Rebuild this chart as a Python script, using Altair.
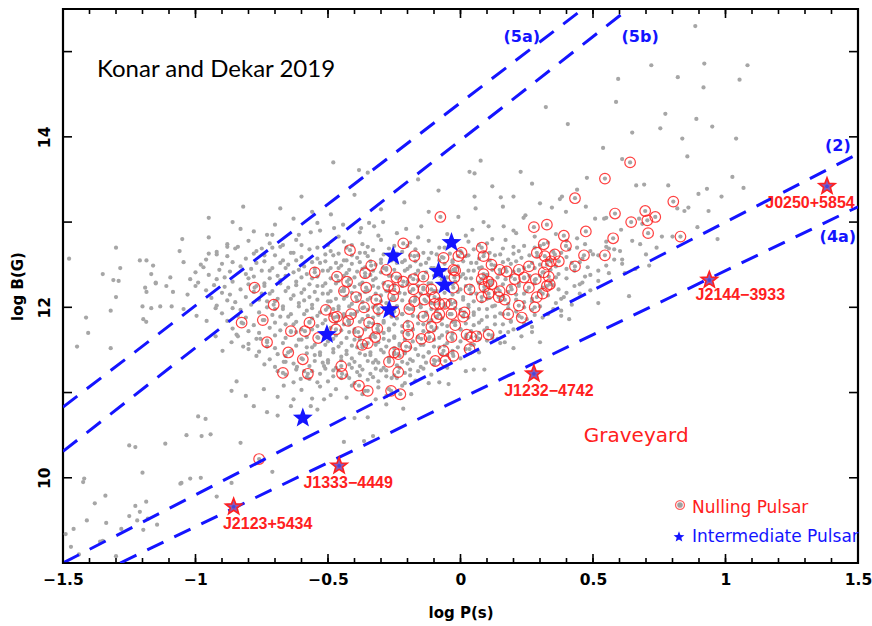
import altair as alt
import pandas as pd

W, H = 795, 554          # plot area in pixels
FONT_B = "DejaVu Sans"

# five-pointed star as a custom symbol path (unit square)
STAR = ("M0,-1L0.247,-0.34L0.951,-0.309L0.399,0.13L0.588,0.809L0,0.42L-0.588,0.809"
        "L-0.399,0.13L-0.951,-0.309L-0.247,-0.34Z")

# ---------------------------------------------------------------------------
# Pulsar population (log P [s], log B [G])
# ---------------------------------------------------------------------------
grey_outer = [
    (-1.477, 12.57), (-1.30, 12.70), (-1.284, 12.46), (-1.35, 12.39), (-1.31, 12.32), (-1.29, 12.31),
    (-1.21, 12.55), (-1.185, 12.55), (-1.16, 12.49), (-1.167, 12.39), (-1.15, 12.28), (-1.19, 12.23),
    (-0.82, 13.18), (-0.68, 13.16), (-0.86, 13.0), (-0.83, 12.92), (-0.78, 12.89), (-0.73, 12.85),
    (-0.71, 12.85), (-0.95, 12.82), (-0.63, 13.04), (-0.54, 12.99), (-0.61, 12.85), (-0.565, 12.88),
    (-0.53, 12.90), (-0.75, 12.69), (-0.68, 12.71), (-0.60, 12.73), (-0.95, 12.63), (-1.045, 12.53),
    (-0.98, 12.50), (-1.0, 12.41), (-1.095, 12.35), (-1.02, 12.33), (-1.0, 12.25), (-1.11, 12.25),
    (-1.085, 12.18), (-1.03, 12.15), (-1.30, 12.12), (-1.185, 12.18), (-1.15, 12.29),
    (-1.413, 11.88), (-1.405, 11.70), (-1.447, 11.54), (-1.32, 11.96), (-1.32, 11.52), (-1.20, 12.01),
    (-1.167, 11.99), (-1.133, 12.01), (-1.197, 11.86), (-1.186, 11.83), (-1.09, 12.01), (-1.045, 11.98),
    (-0.996, 11.90), (-0.958, 11.84), (-0.924, 11.99), (-0.924, 11.66), (-0.898, 11.49), (-0.864, 11.59),
    (-0.845, 11.68), (-0.82, 11.54), (-0.80, 11.51), (-0.77, 11.43), (-0.755, 11.63), (-0.74, 11.33),
    (-0.69, 11.25), (-0.667, 11.36), (-0.617, 11.30), (-0.603, 11.16), (-0.56, 11.25), (-0.54, 11.12),
    (-0.515, 10.92), (-0.515, 11.31), (-0.63, 10.92), (-0.64, 10.84), (-0.69, 10.95), (-0.667, 11.08),
    (-0.742, 11.04), (-0.78, 10.84), (-0.81, 10.96), (-0.845, 11.13), (-0.864, 11.02), (-0.73, 10.77),
    (-0.69, 10.73), (-0.565, 10.84), (-0.54, 10.80), (-0.99, 10.72), (-0.962, 10.69), (-1.034, 10.50),
    (-0.977, 10.49), (-0.943, 10.51), (-1.114, 10.40), (-1.25, 10.38), (-1.227, 10.36), (-0.83, 10.41),
    (-1.20, 10.06), (-1.42, 9.99), (-1.424, 9.95), (-1.053, 9.94), (-1.02, 9.99), (-0.98, 10.0),
    (-0.864, 9.94), (-0.71, 10.07), (-0.92, 9.78), (-1.34, 9.79), (-1.38, 9.70), (-1.227, 9.67),
    (-1.21, 9.60), (-1.22, 9.50), (-1.41, 9.50), (-1.28, 9.40), (-1.46, 9.40), (-1.49, 9.34),
    (-1.35, 9.26), (-1.47, 9.19), (-1.337, 9.47), (-1.36, 9.25), (-1.25, 9.55), (-1.186, 9.72),
    (-1.197, 9.39), (-1.18, 9.52), (-1.145, 9.45), (-1.057, 9.93), (-1.44, 9.10), (-1.30, 9.08),
    (-0.35, 10.71), (-0.33, 10.49), (-0.364, 10.43), (-0.44, 10.42), (-0.186, 10.98), (-0.216, 10.81),
    (-0.28, 10.86), (-0.40, 10.70), (-0.045, 11.10), (-0.08, 11.12), (-0.12, 11.11), (0.09, 11.27),
    (0.05, 11.27), (0.02, 11.25), (0.167, 11.59), (0.14, 11.63), (0.27, 11.71), (0.30, 11.59),
    (0.41, 11.86), (0.38, 11.90), (0.636, 12.13), (0.97, 12.80), (0.20, 11.52), (0.52, 12.05),
    (0.322, 14.35), (0.405, 14.15), (-0.48, 13.70), (-0.383, 13.61), (-0.35, 13.58), (0.076, 13.72),
    (0.034, 13.59), (0.053, 13.57), (0.227, 13.59), (0.477, 13.52), (-0.083, 13.37), (0.053, 13.30),
    (0.152, 13.29), (0.20, 13.30), (-0.212, 13.23), (0.057, 13.16), (0.16, 13.18), (0.345, 13.17),
    (0.383, 13.30), (0.375, 13.27), (-0.292, 13.0), (-0.345, 12.99), (-0.008, 13.06), (0.087, 13.0),
    (0.238, 13.05), (0.245, 13.08), (0.106, 12.95), (0.045, 12.91), (0.163, 12.95), (0.20, 12.90),
    (-0.148, 12.95), (-0.205, 12.92), (-0.375, 12.93), (-0.326, 12.95), (-0.477, 12.93),
    (-0.443, 12.97), (-0.489, 13.09), (-0.60, 13.30), (-0.95, 13.05), (-1.05, 12.80),
    (0.587, 14.41), (0.773, 14.27), (0.89, 14.21), (0.754, 14.10), (0.648, 14.05), (0.95, 14.12),
    (0.837, 13.98), (1.04, 13.98), (0.538, 13.87), (0.856, 13.77), (0.61, 13.74), (0.663, 13.43),
    (0.693, 13.44), (0.784, 13.43), (0.93, 13.39), (0.898, 13.33), (1.026, 13.53), (1.068, 13.40),
    (0.985, 13.30), (0.818, 13.16), (0.86, 13.17), (0.845, 13.13), (0.936, 13.13), (0.542, 13.04),
    (0.606, 12.91), (0.674, 13.04), (0.686, 12.98), (0.76, 12.83), (0.80, 12.83), (0.648, 12.78),
    (0.678, 12.74), (0.894, 12.94), (0.55, 12.71), (0.602, 12.66), (0.61, 12.56), (0.58, 12.68),
    (0.712, 12.49), (0.886, 15.30), (0.72, 14.84), (0.92, 14.86), (1.083, 14.84), (0.595, 14.68),
    (0.82, 14.70), (0.917, 14.58), (1.053, 14.67), (0.398, 13.12), (0.473, 13.18), (0.508, 13.04),
    (0.55, 13.05), (0.66, 12.45), (0.62, 12.40), (0.70, 12.62), (0.74, 12.70),
    (-0.12, 13.12), (-0.30, 13.15), (0.30, 13.22), (-0.70, 12.97), (-0.88, 12.71), (-1.06, 12.66),
    (-0.40, 13.32), (0.12, 13.42), (-0.16, 13.50), (0.44, 13.38), (-0.56, 13.12), (0.27, 13.45),
]

# dense middle of the population, row by row (log P values, log B values)
core_rows = [
    ([-0.46, -0.38, -0.31, -0.24, -0.16, -0.05, 0.02, 0.12, 0.21, 0.28, 0.36, 0.44],
     [12.83, 12.88, 12.84, 12.87, 12.82, 12.86, 12.84, 12.80, 12.87, 12.83, 12.86, 12.81]),
    ([-0.88, -0.80, -0.72, -0.62, -0.50, -0.44, -0.37, -0.30, -0.25, -0.19, -0.12, -0.04, 0.03, 0.10,
      0.17, 0.24, 0.33, 0.40, 0.47, 0.55],
     [12.74, 12.78, 12.75, 12.79, 12.73, 12.77, 12.74, 12.79, 12.72, 12.76, 12.78, 12.73, 12.77, 12.75,
      12.79, 12.72, 12.76, 12.78, 12.74, 12.77]),
    ([-0.92, -0.85, -0.77, -0.71, -0.63, -0.57, -0.49, -0.43, -0.38, -0.33, -0.27, -0.22, -0.17, -0.11,
      -0.06, 0.00, 0.05, 0.11, 0.16, 0.22, 0.28, 0.35, 0.41, 0.49, 0.56],
     [12.65, 12.69, 12.66, 12.70, 12.64, 12.68, 12.66, 12.70, 12.64, 12.67, 12.69, 12.65, 12.68, 12.64,
      12.70, 12.66, 12.68, 12.64, 12.69, 12.66, 12.70, 12.65, 12.68, 12.66, 12.69]),
    ([-0.96, -0.88, -0.81, -0.74, -0.67, -0.60, -0.54, -0.48, -0.44, -0.39, -0.35, -0.30, -0.26, -0.21,
      -0.16, -0.12, -0.07, -0.03, 0.02, 0.07, 0.13, 0.18, 0.23, 0.29, 0.34, 0.40, 0.46, 0.52, 0.58],
     [12.56, 12.60, 12.57, 12.61, 12.55, 12.59, 12.57, 12.61, 12.55, 12.58, 12.60, 12.56, 12.59, 12.55,
      12.61, 12.57, 12.59, 12.55, 12.60, 12.57, 12.61, 12.56, 12.58, 12.60, 12.55, 12.59, 12.57, 12.61,
      12.56]),
    ([-0.97, -0.90, -0.83, -0.77, -0.71, -0.65, -0.59, -0.53, -0.49, -0.45, -0.41, -0.36, -0.32, -0.28,
      -0.24, -0.19, -0.15, -0.10, -0.06, -0.01, 0.04, 0.08, 0.13, 0.19, 0.24, 0.30, 0.36, 0.42, 0.48,
      0.55, 0.61],
     [12.47, 12.51, 12.48, 12.52, 12.46, 12.50, 12.48, 12.52, 12.46, 12.49, 12.51, 12.47, 12.50, 12.46,
      12.52, 12.48, 12.50, 12.46, 12.51, 12.48, 12.52, 12.47, 12.49, 12.51, 12.46, 12.50, 12.48, 12.52,
      12.47, 12.49, 12.51]),
    ([-0.95, -0.87, -0.81, -0.75, -0.69, -0.63, -0.58, -0.52, -0.47, -0.43, -0.39, -0.34, -0.30, -0.26,
      -0.21, -0.17, -0.13, -0.08, -0.04, 0.01, 0.05, 0.10, 0.15, 0.20, 0.26, 0.31, 0.37, 0.43, 0.49, 0.56],
     [12.38, 12.42, 12.39, 12.43, 12.37, 12.41, 12.39, 12.43, 12.37, 12.40, 12.42, 12.38, 12.41, 12.37,
      12.43, 12.39, 12.41, 12.37, 12.42, 12.39, 12.43, 12.38, 12.40, 12.42, 12.37, 12.41, 12.39, 12.43,
      12.38, 12.40]),
    ([-0.99, -0.92, -0.86, -0.80, -0.74, -0.68, -0.62, -0.56, -0.51, -0.46, -0.42, -0.37, -0.33, -0.29,
      -0.24, -0.20, -0.16, -0.11, -0.07, -0.02, 0.02, 0.07, 0.12, 0.17, 0.22, 0.28, 0.34, 0.40, 0.46, 0.52],
     [12.29, 12.33, 12.30, 12.34, 12.28, 12.32, 12.30, 12.34, 12.28, 12.31, 12.33, 12.29, 12.32, 12.28,
      12.34, 12.30, 12.32, 12.28, 12.33, 12.30, 12.34, 12.29, 12.31, 12.33, 12.28, 12.32, 12.30, 12.34,
      12.29, 12.31]),
    ([-0.96, -0.89, -0.83, -0.77, -0.71, -0.65, -0.59, -0.54, -0.49, -0.44, -0.40, -0.35, -0.31, -0.27,
      -0.22, -0.18, -0.14, -0.09, -0.05, 0.00, 0.04, 0.09, 0.14, 0.19, 0.25, 0.31, 0.37, 0.43, 0.49],
     [12.20, 12.24, 12.21, 12.25, 12.19, 12.23, 12.21, 12.25, 12.19, 12.22, 12.24, 12.20, 12.23, 12.19,
      12.25, 12.21, 12.23, 12.19, 12.24, 12.21, 12.25, 12.20, 12.22, 12.24, 12.19, 12.23, 12.21, 12.25,
      12.20]),
    ([-0.94, -0.87, -0.81, -0.75, -0.69, -0.63, -0.57, -0.52, -0.47, -0.43, -0.38, -0.34, -0.30, -0.25,
      -0.21, -0.17, -0.12, -0.08, -0.03, 0.01, 0.06, 0.11, 0.16, 0.21, 0.27, 0.33, 0.39, 0.45],
     [12.11, 12.15, 12.12, 12.16, 12.10, 12.14, 12.12, 12.16, 12.10, 12.13, 12.15, 12.11, 12.14, 12.10,
      12.16, 12.12, 12.14, 12.10, 12.15, 12.12, 12.16, 12.11, 12.13, 12.15, 12.10, 12.14, 12.12, 12.16]),
    ([-0.92, -0.85, -0.79, -0.73, -0.67, -0.61, -0.56, -0.50, -0.46, -0.41, -0.37, -0.32, -0.28, -0.24,
      -0.19, -0.15, -0.11, -0.06, -0.02, 0.03, 0.08, 0.13, 0.18, 0.24, 0.30, 0.36, 0.42],
     [12.02, 12.06, 12.03, 12.07, 12.01, 12.05, 12.03, 12.07, 12.01, 12.04, 12.06, 12.02, 12.05, 12.01,
      12.07, 12.03, 12.05, 12.01, 12.06, 12.03, 12.07, 12.02, 12.04, 12.06, 12.01, 12.05, 12.03]),
    ([-0.90, -0.83, -0.76, -0.70, -0.64, -0.58, -0.53, -0.48, -0.44, -0.39, -0.35, -0.31, -0.26, -0.22,
      -0.18, -0.13, -0.09, -0.04, 0.00, 0.05, 0.10, 0.15, 0.21, 0.27, 0.33, 0.38],
     [11.93, 11.97, 11.94, 11.98, 11.92, 11.96, 11.94, 11.98, 11.92, 11.95, 11.97, 11.93, 11.96, 11.92,
      11.98, 11.94, 11.96, 11.92, 11.97, 11.94, 11.98, 11.93, 11.95, 11.97, 11.92, 11.96]),
    ([-0.88, -0.81, -0.74, -0.68, -0.62, -0.56, -0.51, -0.46, -0.42, -0.37, -0.33, -0.29, -0.24, -0.20,
      -0.16, -0.11, -0.07, -0.02, 0.03, 0.08, 0.13, 0.19, 0.25, 0.31],
     [11.84, 11.88, 11.85, 11.89, 11.83, 11.87, 11.85, 11.89, 11.83, 11.86, 11.88, 11.84, 11.87, 11.83,
      11.89, 11.85, 11.87, 11.83, 11.88, 11.85, 11.89, 11.84, 11.86, 11.88]),
    ([-0.86, -0.78, -0.72, -0.66, -0.60, -0.54, -0.49, -0.44, -0.40, -0.35, -0.31, -0.27, -0.22, -0.18,
      -0.14, -0.09, -0.05, 0.00, 0.05, 0.10, 0.16, 0.22, 0.27],
     [11.75, 11.79, 11.76, 11.80, 11.74, 11.78, 11.76, 11.80, 11.74, 11.77, 11.79, 11.75, 11.78, 11.74,
      11.80, 11.76, 11.78, 11.74, 11.79, 11.76, 11.80, 11.75, 11.77]),
    ([-0.84, -0.76, -0.70, -0.64, -0.58, -0.52, -0.47, -0.42, -0.38, -0.33, -0.29, -0.25, -0.20, -0.16,
      -0.12, -0.07, -0.03, 0.02, 0.07, 0.12, 0.18, 0.23],
     [11.66, 11.70, 11.67, 11.71, 11.65, 11.69, 11.67, 11.71, 11.65, 11.68, 11.70, 11.66, 11.69, 11.65,
      11.71, 11.67, 11.69, 11.65, 11.70, 11.67, 11.71, 11.66]),
    ([-0.80, -0.73, -0.67, -0.61, -0.55, -0.50, -0.45, -0.40, -0.36, -0.31, -0.27, -0.23, -0.18, -0.14,
      -0.10, -0.05, 0.00, 0.05, 0.10, 0.15],
     [11.57, 11.61, 11.58, 11.62, 11.56, 11.60, 11.58, 11.62, 11.56, 11.59, 11.61, 11.57, 11.60, 11.56,
      11.62, 11.58, 11.60, 11.56, 11.61, 11.58]),
    ([-0.76, -0.70, -0.64, -0.58, -0.53, -0.48, -0.43, -0.39, -0.34, -0.30, -0.25, -0.21, -0.17, -0.12,
      -0.08, -0.03, 0.02, 0.07],
     [11.48, 11.52, 11.49, 11.53, 11.47, 11.51, 11.49, 11.53, 11.47, 11.50, 11.52, 11.48, 11.51, 11.47,
      11.53, 11.49, 11.51, 11.47]),
    ([-0.72, -0.66, -0.60, -0.55, -0.50, -0.45, -0.41, -0.36, -0.32, -0.27, -0.23, -0.19, -0.14, -0.10,
      -0.05, 0.00],
     [11.39, 11.43, 11.40, 11.44, 11.38, 11.42, 11.40, 11.44, 11.38, 11.41, 11.43, 11.39, 11.42, 11.38,
      11.44, 11.40]),
    ([-0.70, -0.63, -0.57, -0.52, -0.47, -0.42, -0.38, -0.33, -0.29, -0.24, -0.20, -0.15, -0.10, -0.05],
     [11.30, 11.34, 11.31, 11.35, 11.29, 11.33, 11.31, 11.35, 11.29, 11.32, 11.34, 11.30, 11.33, 11.29]),
    ([-0.66, -0.59, -0.53, -0.48, -0.43, -0.39, -0.34, -0.30, -0.25, -0.21, -0.16, -0.11],
     [11.21, 11.25, 11.22, 11.26, 11.20, 11.24, 11.22, 11.26, 11.20, 11.23, 11.25, 11.21]),
    ([-0.63, -0.57, -0.50, -0.45, -0.40, -0.35, -0.31, -0.26, -0.21, -0.17],
     [11.12, 11.16, 11.13, 11.17, 11.11, 11.15, 11.13, 11.17, 11.11, 11.14]),
    ([-0.60, -0.53, -0.47, -0.41, -0.36, -0.31, -0.27, -0.22],
     [11.03, 11.07, 11.04, 11.08, 11.02, 11.06, 11.04, 11.08]),
    ([-0.56, -0.49, -0.43, -0.37, -0.32, -0.28],
     [10.93, 10.97, 10.94, 10.98, 10.92, 10.96]),
]

# second, staggered set of rows filling the densest part
core_rows_2 = [
    ([-0.84, -0.67, -0.54, -0.41, -0.35, -0.20, -0.08, 0.07, 0.20, 0.30, 0.44],
     [12.71, 12.73, 12.70, 12.73, 12.71, 12.72, 12.70, 12.73, 12.71, 12.72, 12.70]),
    ([-0.92, -0.78, -0.70, -0.64, -0.51, -0.46, -0.41, -0.36, -0.29, -0.24, -0.19, -0.14, -0.09, -0.04,
      0.03, 0.09, 0.15, 0.20, 0.26, 0.38, 0.50],
     [12.62, 12.63, 12.61, 12.64, 12.62, 12.63, 12.61, 12.64, 12.62, 12.63, 12.61, 12.64, 12.62, 12.63,
      12.61, 12.64, 12.62, 12.63, 12.61, 12.64, 12.62]),
    ([-0.86, -0.74, -0.68, -0.62, -0.56, -0.51, -0.47, -0.43, -0.38, -0.34, -0.30, -0.26, -0.22, -0.17,
      -0.13, -0.08, -0.03, 0.01, 0.06, 0.11, 0.16, 0.21, 0.27, 0.33, 0.45],
     [12.53, 12.54, 12.52, 12.55, 12.53, 12.54, 12.52, 12.55, 12.53, 12.54, 12.52, 12.55, 12.53, 12.54,
      12.52, 12.55, 12.53, 12.54, 12.52, 12.55, 12.53, 12.54, 12.52, 12.55, 12.53]),
    ([-0.91, -0.79, -0.72, -0.66, -0.61, -0.55, -0.50, -0.46, -0.42, -0.37, -0.33, -0.29, -0.25, -0.20,
      -0.16, -0.11, -0.06, -0.02, 0.03, 0.07, 0.12, 0.17, 0.22, 0.28, 0.34, 0.40, 0.52],
     [12.44, 12.45, 12.43, 12.46, 12.44, 12.45, 12.43, 12.46, 12.44, 12.45, 12.43, 12.46, 12.44, 12.45,
      12.43, 12.46, 12.44, 12.45, 12.43, 12.46, 12.44, 12.45, 12.43, 12.46, 12.44, 12.45, 12.43]),
    ([-0.89, -0.78, -0.72, -0.66, -0.60, -0.54, -0.49, -0.44, -0.40, -0.36, -0.32, -0.27, -0.23, -0.19,
      -0.14, -0.10, -0.05, 0.00, 0.04, 0.09, 0.14, 0.19, 0.24, 0.30, 0.36, 0.47],
     [12.35, 12.36, 12.34, 12.37, 12.35, 12.36, 12.34, 12.37, 12.35, 12.36, 12.34, 12.37, 12.35, 12.36,
      12.34, 12.37, 12.35, 12.36, 12.34, 12.37, 12.35, 12.36, 12.34, 12.37, 12.35, 12.36]),
    ([-0.93, -0.80, -0.74, -0.68, -0.62, -0.57, -0.52, -0.47, -0.42, -0.38, -0.33, -0.29, -0.25, -0.20,
      -0.16, -0.12, -0.07, -0.03, 0.02, 0.07, 0.11, 0.16, 0.22, 0.28, 0.35, 0.45],
     [12.26, 12.27, 12.25, 12.28, 12.26, 12.27, 12.25, 12.28, 12.26, 12.27, 12.25, 12.28, 12.26, 12.27,
      12.25, 12.28, 12.26, 12.27, 12.25, 12.28, 12.26, 12.27, 12.25, 12.28, 12.26, 12.27]),
    ([-0.90, -0.78, -0.72, -0.66, -0.60, -0.55, -0.50, -0.45, -0.41, -0.36, -0.32, -0.28, -0.23, -0.19,
      -0.15, -0.10, -0.06, -0.01, 0.04, 0.09, 0.13, 0.18, 0.24, 0.30, 0.40],
     [12.17, 12.18, 12.16, 12.19, 12.17, 12.18, 12.16, 12.19, 12.17, 12.18, 12.16, 12.19, 12.17, 12.18,
      12.16, 12.19, 12.17, 12.18, 12.16, 12.19, 12.17, 12.18, 12.16, 12.19, 12.17]),
    ([-0.88, -0.76, -0.70, -0.64, -0.59, -0.54, -0.49, -0.44, -0.39, -0.35, -0.30, -0.26, -0.22, -0.17,
      -0.13, -0.08, -0.04, 0.01, 0.05, 0.10, 0.15, 0.21, 0.27, 0.38],
     [12.08, 12.09, 12.07, 12.10, 12.08, 12.09, 12.07, 12.10, 12.08, 12.09, 12.07, 12.10, 12.08, 12.09,
      12.07, 12.10, 12.08, 12.09, 12.07, 12.10, 12.08, 12.09, 12.07, 12.10]),
    ([-0.86, -0.73, -0.67, -0.61, -0.56, -0.50, -0.46, -0.42, -0.37, -0.33, -0.28, -0.24, -0.20, -0.15,
      -0.11, -0.06, -0.02, 0.03, 0.07, 0.12, 0.18, 0.24, 0.35],
     [11.99, 12.00, 11.98, 12.01, 11.99, 12.00, 11.98, 12.01, 11.99, 12.00, 11.98, 12.01, 11.99, 12.00,
      11.98, 12.01, 11.99, 12.00, 11.98, 12.01, 11.99, 12.00, 11.98]),
    ([-0.84, -0.71, -0.65, -0.59, -0.54, -0.49, -0.44, -0.40, -0.35, -0.31, -0.26, -0.22, -0.18, -0.13,
      -0.09, -0.04, 0.01, 0.05, 0.10, 0.16, 0.22, 0.28],
     [11.90, 11.91, 11.89, 11.92, 11.90, 11.91, 11.89, 11.92, 11.90, 11.91, 11.89, 11.92, 11.90, 11.91,
      11.89, 11.92, 11.90, 11.91, 11.89, 11.92, 11.90, 11.91]),
    ([-0.82, -0.70, -0.63, -0.57, -0.52, -0.47, -0.42, -0.38, -0.33, -0.29, -0.25, -0.20, -0.16, -0.12,
      -0.07, -0.03, 0.02, 0.07, 0.13, 0.19, 0.24],
     [11.81, 11.82, 11.80, 11.83, 11.81, 11.82, 11.80, 11.83, 11.81, 11.82, 11.80, 11.83, 11.81, 11.82,
      11.80, 11.83, 11.81, 11.82, 11.80, 11.83, 11.81]),
    ([-0.80, -0.68, -0.62, -0.56, -0.50, -0.45, -0.40, -0.36, -0.31, -0.27, -0.22, -0.18, -0.14, -0.10,
      -0.05, 0.00, 0.04, 0.09, 0.15, 0.20],
     [11.72, 11.73, 11.71, 11.74, 11.72, 11.73, 11.71, 11.74, 11.72, 11.73, 11.71, 11.74, 11.72, 11.73,
      11.71, 11.74, 11.72, 11.73, 11.71, 11.74]),
    ([-0.77, -0.66, -0.60, -0.54, -0.48, -0.43, -0.38, -0.34, -0.29, -0.25, -0.21, -0.16, -0.12, -0.08,
      -0.03, 0.02, 0.07, 0.12],
     [11.63, 11.64, 11.62, 11.65, 11.63, 11.64, 11.62, 11.65, 11.63, 11.64, 11.62, 11.65, 11.63, 11.64,
      11.62, 11.65, 11.63, 11.64]),
    ([-0.73, -0.62, -0.56, -0.51, -0.46, -0.41, -0.37, -0.32, -0.28, -0.23, -0.19, -0.15, -0.10, -0.06,
      -0.01, 0.04],
     [11.54, 11.55, 11.53, 11.56, 11.54, 11.55, 11.53, 11.56, 11.54, 11.55, 11.53, 11.56, 11.54, 11.55,
      11.53, 11.56]),
    ([-0.69, -0.58, -0.53, -0.48, -0.43, -0.38, -0.34, -0.29, -0.25, -0.21, -0.16, -0.12, -0.07, -0.03],
     [11.45, 11.46, 11.44, 11.47, 11.45, 11.46, 11.44, 11.47, 11.45, 11.46, 11.44, 11.47, 11.45, 11.46]),
    ([-0.66, -0.55, -0.50, -0.45, -0.40, -0.35, -0.31, -0.27, -0.22, -0.18, -0.13, -0.08],
     [11.36, 11.37, 11.35, 11.38, 11.36, 11.37, 11.35, 11.38, 11.36, 11.37, 11.35, 11.38]),
    ([-0.62, -0.51, -0.46, -0.41, -0.37, -0.32, -0.28, -0.23, -0.19, -0.14],
     [11.27, 11.28, 11.26, 11.29, 11.27, 11.28, 11.26, 11.29, 11.27, 11.28]),
    ([-0.58, -0.48, -0.42, -0.38, -0.33, -0.28, -0.24, -0.19],
     [11.18, 11.19, 11.17, 11.20, 11.18, 11.19, 11.17, 11.20]),
]

# nulling pulsars
nulling = [
    (-0.777, 12.23), (-0.55, 12.41), (-0.76, 10.22), (-0.826, 11.82), (-0.746, 11.85), (-0.705, 12.03),
    (-0.73, 11.59), (-0.64, 11.72), (-0.587, 11.72), (-0.57, 11.82), (-0.537, 11.64), (-0.65, 11.47),
    (-0.595, 11.39), (-0.576, 11.22), (-0.67, 11.23), (-0.508, 11.97), (-0.466, 11.89), (-0.428, 12.30),
    (-0.413, 11.92), (-0.424, 11.84), (-0.47, 11.74), (-0.44, 12.19), (-0.417, 12.67), (-0.36, 12.40),
    (-0.356, 12.23), (-0.394, 12.12), (-0.386, 11.71), (-0.345, 11.82), (-0.322, 11.65), (-0.314, 11.75),
    (-0.371, 11.56), (-0.35, 11.58), (-0.45, 11.31), (-0.447, 11.22), (-0.383, 11.08), (-0.35, 11.02),
    (-0.28, 12.44), (-0.273, 12.25), (-0.242, 12.35), (-0.25, 12.21), (-0.254, 12.13), (-0.216, 12.75),
    (-0.174, 12.60), (-0.216, 12.30), (-0.178, 12.33), (-0.178, 12.21), (-0.14, 12.36), (-0.14, 12.21),
    (-0.136, 12.09), (-0.11, 12.21), (-0.098, 12.12), (-0.098, 12.04), (-0.318, 12.09), (-0.31, 11.98),
    (-0.364, 12.0), (-0.25, 11.95), (-0.193, 11.98), (-0.174, 12.07), (-0.14, 11.89), (-0.09, 11.88),
    (-0.08, 12.04), (-0.06, 12.04), (-0.034, 12.04), (-0.027, 12.44), (-0.008, 12.60), (0.004, 12.64),
    (-0.064, 12.58), (-0.023, 12.35), (-0.11, 11.77), (-0.08, 11.92), (-0.034, 11.92), (-0.02, 11.79),
    (0.01, 11.89), (0.023, 11.68), (0.034, 12.21), (-0.027, 12.23), (0.06, 11.66), (0.106, 11.68),
    (-0.034, 11.65), (-0.064, 11.49), (-0.057, 11.37), (-0.095, 11.37), (-0.197, 11.78), (-0.197, 11.68),
    (-0.205, 11.54), (-0.235, 11.45), (-0.27, 11.36), (-0.235, 11.24), (-0.262, 11.02), (-0.227, 10.98),
    (-0.117, 11.65), (-0.148, 11.63), (-0.25, 11.47), (-0.477, 11.88),
    (0.08, 12.70), (0.087, 12.60), (0.117, 12.50), (0.087, 12.39), (0.08, 12.33), (0.106, 12.30),
    (0.117, 12.27), (0.148, 12.44), (0.174, 12.42), (0.22, 12.44), (0.205, 12.33), (0.24, 12.35),
    (0.258, 12.48), (0.277, 12.94), (0.326, 12.97), (0.288, 12.64), (0.314, 12.74), (0.318, 12.60),
    (0.314, 12.41), (0.333, 12.36), (0.326, 12.25), (0.258, 12.23), (0.288, 12.12), (0.31, 12.16),
    (0.28, 12.0), (0.148, 12.19), (0.167, 12.09), (0.144, 12.12), (0.08, 12.12), (0.106, 12.16),
    (0.193, 12.21), (0.22, 12.02), (0.015, 11.94), (0.231, 11.88), (0.04, 11.65), (-0.027, 11.43),
    (0.034, 11.51), (0.18, 11.92), (-0.076, 13.06), (-0.337, 12.49), (-0.466, 12.36), (-0.02, 12.43),
    (0.39, 12.84), (0.398, 12.72), (0.432, 13.28), (0.473, 12.89), (0.466, 12.61), (0.432, 12.48),
    (0.356, 12.62), (0.341, 12.54), (0.371, 12.54), (0.326, 12.50), (0.337, 12.27), (0.284, 12.33),
    (0.09, 12.24), (0.64, 13.70), (0.545, 13.51), (0.803, 13.24), (0.583, 13.10), (0.697, 13.13),
    (0.644, 13.0), (0.705, 13.02), (0.735, 13.06), (0.708, 12.87), (0.576, 12.81), (0.83, 12.83),
    (0.545, 12.61),
]

# intermediate pulsars
intermediate = [(-0.254, 12.60), (-0.034, 12.76), (-0.083, 12.42), (-0.06, 12.26),
                (-0.269, 11.97), (-0.504, 11.68), (-0.595, 10.70)]

# pulsars named in the figure
named_psr = ["J0250+5854", "J2144\u22123933", "J1232\u22124742", "J1333\u22124449", "J2123+5434"]
named_logp = [1.383, 0.939, 0.277, -0.458, -0.856]
named_logb = [13.42, 12.32, 11.22, 10.14, 9.66]
named_dx = [-17, 31, 15, 9, 34]
named_dy = [17, 15, 17, 17, 17]

# death lines, each given by its two end points
line_id = ["5a", "5a", "5b", "5b", "2", "2", "4a", "4a"]
line_logp = [-1.5, 0.462, -1.5, 0.633, -1.5, 1.5, -1.284, 1.5]
line_logb = [10.83, 15.5, 10.31, 15.5, 9.0, 13.8, 9.0, 13.18]
line_label = ["(5a)", "(5b)", "(2)", "(4a)"]
line_label_logp = [0.231, 0.678, 1.424, 1.424]
line_label_logb = [15.17, 15.17, 13.89, 12.83]

x_major = [-1.5, -1.0, -0.5, 0.0, 0.5, 1.0, 1.5]
x_minor = [round(-1.5 + 0.1 * i, 1) for i in range(31)]
y_major = [9, 10, 11, 12, 13, 14, 15]
y_labels = [10, 12, 14]

# ---------------------------------------------------------------------------
grey_pts = list(grey_outer)
for xs_row, ys_row in core_rows + core_rows_2:
    grey_pts += list(zip(xs_row, ys_row))
grey_pts += nulling  # nulling pulsars are part of the population too

grey_df = pd.DataFrame(grey_pts, columns=["logp", "logb"])
null_df = pd.DataFrame(nulling, columns=["logp", "logb"])
inter_df = pd.DataFrame(intermediate, columns=["logp", "logb"])
named_df = pd.DataFrame({"logp": named_logp, "logb": named_logb, "name": named_psr})
lines_df = pd.DataFrame({"logp": line_logp, "logb": line_logb, "line": line_id})
line_lab_df = pd.DataFrame({"logp": line_label_logp, "logb": line_label_logb, "label": line_label})

RED = "#ff2020"
BLUE = "#1414ff"
GREY = "#a6a6a6"

xscale = alt.Scale(domain=[-1.5, 1.5], nice=False, zero=False)
yscale = alt.Scale(domain=[9, 15.5], nice=False, zero=False)

xaxis = alt.Axis(values=x_major, ticks=False, tickSize=0, domain=False, grid=False,
                 labelExpr="replace(format(datum.value, '~g'), '-', '\u2212')",
                 labelFont=FONT_B, labelFontWeight="bold", labelFontSize=15.5, labelColor="black",
                 labelPadding=9, labelFlush=False,
                 title="log P(s)", titleFont=FONT_B, titleFontWeight="bold", titleFontSize=15,
                 titleColor="black", titlePadding=18)
yaxis = alt.Axis(values=y_labels, ticks=False, tickSize=0, domain=False, grid=False,
                 labelAngle=270, labelAlign="center", labelBaseline="bottom",
                 labelFont=FONT_B, labelFontWeight="bold", labelFontSize=15.5, labelColor="black",
                 labelPadding=11, labelFlush=False,
                 title="log B(G)", titleFont=FONT_B, titleFontWeight="bold", titleFontSize=15,
                 titleColor="black", titlePadding=12)


def X(field="logp"):
    return alt.X(f"{field}:Q", scale=xscale, axis=xaxis)


def Y(field="logb"):
    return alt.Y(f"{field}:Q", scale=yscale, axis=yaxis)


grey = alt.Chart(grey_df).mark_circle(size=18, color=GREY, opacity=1).encode(x=X(), y=Y())
null = alt.Chart(null_df).mark_point(shape="circle", size=112, color=RED, strokeWidth=1.2,
                                     filled=False, opacity=0.85).encode(x=X(), y=Y())
inter = alt.Chart(inter_df).mark_point(shape=STAR, size=440, color=BLUE, filled=True,
                                       opacity=1).encode(x=X(), y=Y())
named_outer = alt.Chart(named_df).mark_point(shape=STAR, size=290, fill="#8a5ab8", fillOpacity=1,
                                             stroke=RED, strokeWidth=1.6).encode(x=X(), y=Y())
named_inner = alt.Chart(named_df).mark_point(shape="circle", size=14, filled=True, color="#4848d8",
                                             opacity=1).encode(x=X(), y=Y())

death_lines = alt.Chart(lines_df).mark_line(color=BLUE, strokeWidth=3, strokeDash=[18, 12],
                                            clip=True).encode(x=X(), y=Y(), detail="line:N")
line_text = alt.Chart(line_lab_df).mark_text(font=FONT_B, fontWeight="bold", fontSize=16,
                                             color=BLUE).encode(x=X(), y=Y(), text="label:N")

named_text = [
    alt.Chart(named_df.iloc[[i]]).mark_text(font="Liberation Sans", fontWeight="bold", fontSize=16,
                                            color=RED, dx=named_dx[i], dy=named_dy[i])
    .encode(x=X(), y=Y(), text="name:N")
    for i in range(len(named_psr))
]

grave = alt.Chart(pd.DataFrame({"logp": [0.663], "logb": [10.49], "t": ["Graveyard"]})).mark_text(
    font=FONT_B, fontSize=20, color=RED).encode(x=X(), y=Y(), text="t:N")

# legend and caption, placed in the plot frame
furn = pd.DataFrame({"t": ["x"]})
caption = alt.Chart(furn).mark_text(text="Konar and Dekar 2019", font="Lato", fontSize=24, align="left",
                                    baseline="middle", color="black").encode(x=alt.value(34), y=alt.value(61))
leg_dot = alt.Chart(furn).mark_point(shape="circle", size=32, filled=True, color="#a0a0a0",
                                     opacity=1).encode(x=alt.value(617), y=alt.value(496))
leg_ring = alt.Chart(furn).mark_point(shape="circle", size=80, filled=False, color=RED,
                                      strokeWidth=1.3).encode(x=alt.value(617), y=alt.value(496))
leg_null = alt.Chart(furn).mark_text(text="Nulling Pulsar", font=FONT_B, fontSize=17, align="left",
                                     baseline="middle", color=RED).encode(x=alt.value(629), y=alt.value(499))
leg_star = alt.Chart(furn).mark_point(shape=STAR, size=130, filled=True, color=BLUE,
                                      opacity=1).encode(x=alt.value(616), y=alt.value(528))
leg_inter = alt.Chart(furn).mark_text(text="Intermediate Pulsar", font=FONT_B, fontSize=17, align="left",
                                      baseline="middle", color=BLUE).encode(x=alt.value(629), y=alt.value(528))

# inward ticks on all four sides
xmaj_df = pd.DataFrame({"v": x_major})
xmin_df = pd.DataFrame({"v": x_minor})
ymaj_df = pd.DataFrame({"v": y_major})


def xticks(df, length):
    bottom = alt.Chart(df).mark_rule(color="black", strokeWidth=1.6).encode(
        x=X("v"), y=alt.value(H), y2=alt.value(H - length))
    top = alt.Chart(df).mark_rule(color="black", strokeWidth=1.6).encode(
        x=X("v"), y=alt.value(0), y2=alt.value(length))
    return [bottom, top]


def yticks(df, length):
    left = alt.Chart(df).mark_rule(color="black", strokeWidth=1.6).encode(
        y=Y("v"), x=alt.value(0), x2=alt.value(length))
    right = alt.Chart(df).mark_rule(color="black", strokeWidth=1.6).encode(
        y=Y("v"), x=alt.value(W), x2=alt.value(W - length))
    return [left, right]


layers = [grey, null, death_lines, inter, named_outer, named_inner, line_text, *named_text, grave,
          caption, leg_dot, leg_ring, leg_null, leg_star, leg_inter,
          *xticks(xmaj_df, 9), *xticks(xmin_df, 5), *yticks(ymaj_df, 9)]

chart = alt.layer(*layers).properties(
    width=W, height=H,
    autosize=alt.AutoSizeParams(type="none"),
    padding={"left": 63, "top": 9, "right": 14, "bottom": 63},
    background="white",
).configure_view(stroke="black", strokeWidth=2.2)

chart.save("out.html", embed_options={"renderer": "svg", "actions": False})
